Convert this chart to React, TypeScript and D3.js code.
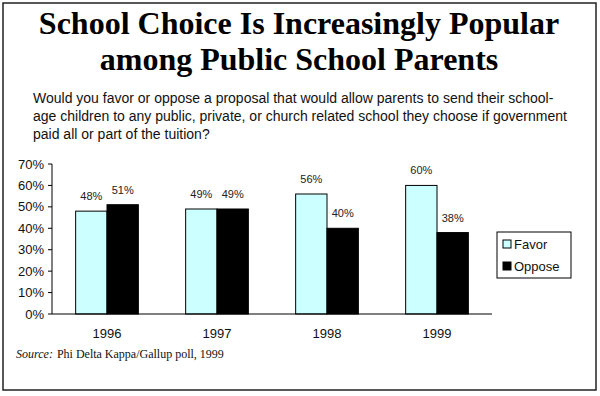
import React from 'react';
import * as d3 from 'd3';

// Phi Delta Kappa/Gallup poll, share of public school parents
const years = ['1996', '1997', '1998', '1999'];
const favor = [48, 49, 56, 60];
const oppose = [51, 49, 40, 38];
const seriesNames = ['Favor', 'Oppose'];
const yTicks = [0, 10, 20, 30, 40, 50, 60, 70];

const titleLines = ['School Choice Is Increasingly Popular', 'among Public School Parents'];
const questionLines = [
  'Would you favor or oppose a proposal that would allow parents to send their school-',
  'age children to any public, private, or church related school they choose if government',
  'paid all or part of the tuition?',
];

const W = 600;
const H = 396;
const FAVOR_FILL = '#ccffff';
const OPPOSE_FILL = '#000000';
const SANS = 'Arial, "Liberation Sans", Helvetica, sans-serif';
const SERIF = '"Times New Roman", "Liberation Serif", Times, serif';

const App = () => {
  const plot = { left: 52, right: 492, top: 164, bottom: 314 };

  const x = d3.scaleBand<string>().domain(years).range([plot.left, plot.right]).paddingInner(0.43).paddingOuter(0.215);
  const inner = d3.scaleBand<string>().domain(seriesNames).range([0, x.bandwidth()]);
  const y = d3.scaleLinear().domain([0, 70]).range([plot.bottom, plot.top]);

  const rows = years.map((yr, i) => ({ yr, vals: [favor[i], oppose[i]] }));
  const fills = [FAVOR_FILL, OPPOSE_FILL];

  return (
    <svg width={W} height={H} style={{ position: 'absolute', left: 0, top: 0, background: '#fff' }}>
      <rect x={3} y={3} width={593} height={387} fill="#fff" stroke="#222" strokeWidth={1.5} />

      {/* title */}
      {titleLines.map((t, i) => (
        <text key={t} x={299} y={34 + i * 36} textAnchor="middle" fontFamily={SERIF}
          fontWeight="bold" fontSize={32} fill="#000">{t}</text>
      ))}

      {/* question */}
      {questionLines.map((t, i) => (
        <text key={t} x={33} y={103 + i * 18} fontFamily={SANS} fontSize={14} fill="#111">{t}</text>
      ))}

      {/* bars */}
      {rows.map(r => (
        <g key={r.yr} transform={`translate(${x(r.yr)},0)`}>
          {r.vals.map((v, j) => (
            <g key={seriesNames[j]}>
              <rect x={inner(seriesNames[j])} y={y(v)} width={inner.bandwidth()} height={y(0) - y(v)}
                fill={fills[j]} stroke="#000" strokeWidth={1} />
              <text x={(inner(seriesNames[j]) || 0) + inner.bandwidth() / 2} y={y(v) - 11}
                textAnchor="middle" fontFamily={SANS} fontSize={11} fill="#222">{v}%</text>
            </g>
          ))}
          <text x={x.bandwidth() / 2} y={338} textAnchor="middle" fontFamily={SANS} fontSize={13} fill="#111">{r.yr}</text>
        </g>
      ))}

      {/* y axis */}
      <line x1={plot.left} x2={plot.left} y1={plot.top} y2={plot.bottom} stroke="#000" />
      <line x1={plot.left} x2={plot.right} y1={plot.bottom} y2={plot.bottom} stroke="#000" />
      {yTicks.map(t => (
        <g key={t}>
          <line x1={plot.left - 4} x2={plot.left} y1={y(t)} y2={y(t)} stroke="#000" />
          <text x={44} y={y(t) + 4.5} textAnchor="end" fontFamily={SANS} fontSize={13} fill="#111">{t}%</text>
        </g>
      ))}

      {/* legend */}
      <rect x={497} y={232} width={74} height={46} fill="#fff" stroke="#000" strokeWidth={1} />
      {seriesNames.map((n, i) => (
        <g key={n} transform={`translate(503,${240 + i * 22})`}>
          <rect x={0} y={0} width={8} height={8} fill={fills[i]} stroke="#000" strokeWidth={1} />
          <text x={11} y={9} fontFamily={SANS} fontSize={13} fill="#111">{n}</text>
        </g>
      ))}

      {/* source */}
      <text x={16} y={358} fontFamily={SERIF} fontSize={12} fill="#111">
        <tspan fontStyle="italic">Source:</tspan>
        <tspan dx={4}>Phi Delta Kappa/Gallup poll, 1999</tspan>
      </text>
    </svg>
  );
};

export default App;
